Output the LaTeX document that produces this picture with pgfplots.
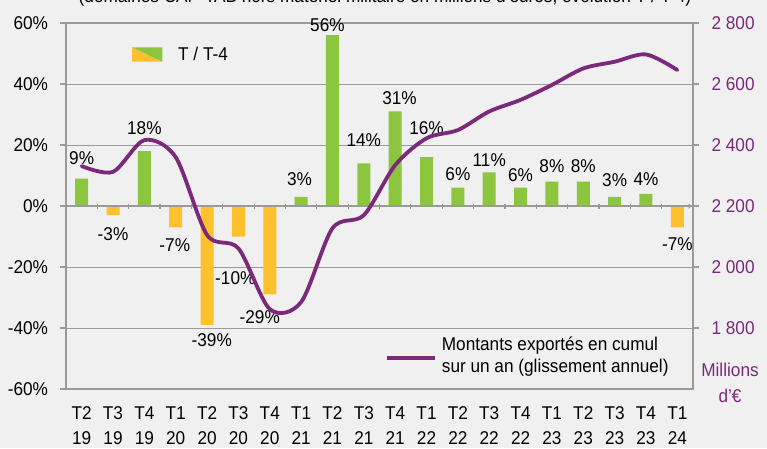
\documentclass[border=0pt]{standalone}
\usepackage{fontspec}
\setmainfont{Liberation Sans}[FakeStretch=0.93]
\usepackage{pgfplots}
\pgfplotsset{compat=1.18}
\definecolor{bgc}{HTML}{F0F0F0}
\definecolor{grn}{HTML}{8CC63F}
\definecolor{org}{HTML}{FFC02E}
\definecolor{pur}{HTML}{7B2A7B}
\definecolor{axg}{HTML}{9A9A9A}
\newcommand{\fs}{\fontsize{18.5}{22}\selectfont}
\begin{document}
\begin{tikzpicture}
\fill[bgc] (-66pt,-59pt) rectangle (701pt,389pt);
\pgfplotsset{common/.style={at={(0pt,0pt)}, anchor=south west, scale only axis,
  width=627pt, height=366pt, xmin=-0.5, xmax=19.5,
  /pgf/number format/assume math mode=true,
  tick label style={font=\fs},
  axis line style={axg, line width=1.2pt, -},
  major tick length=6pt, tick align=outside}}
% bars and left axis
\begin{axis}[common, ymin=-60, ymax=60,
  ytick={-60,-40,...,60},
  yticklabels={-60\%,-40\%,-20\%,0\%,20\%,40\%,60\%},
  ytick pos=left, ymajorgrids,
  major grid style={axg, line width=0.9pt},
  y tick style={axg, line width=1.2pt},
  xtick={0,...,19}, x tick style={draw=none},
  xticklabels={{T2\\19},{T3\\19},{T4\\19},{T1\\20},{T2\\20},{T3\\20},{T4\\20},{T1\\21},{T2\\21},{T3\\21},{T4\\21},{T1\\22},{T2\\22},{T3\\22},{T4\\22},{T1\\23},{T2\\23},{T3\\23},{T4\\23},{T1\\24}},
  xticklabel style={align=center, font=\fontsize{18.5}{25}\selectfont, yshift=-8.5pt},
  yticklabel style={xshift=-8.5pt}]
\addplot[ybar, bar width=13pt, bar shift=0pt, fill=grn, draw=none] coordinates {
 (0,9) (2,18) (7,3) (8,56) (9,14) (10,31) (11,16) (12,6) (13,11) (14,6) (15,8) (16,8) (17,3) (18,4)};
\addplot[ybar, bar width=13pt, bar shift=0pt, fill=org, draw=none] coordinates {
 (1,-3) (3,-7) (4,-39) (5,-10) (6,-29) (19,-7)};
\addplot[draw=none, mark=none, nodes near coords, point meta=explicit symbolic,
  nodes near coords align={center},
  every node near coord/.append style={anchor=center, font=\fs, inner sep=0pt, text=black}]
 coordinates {
 (0,15.6)[9\%] (1,-9.2)[-3\%] (2,25.5)[18\%] (2.97,-12.8)[-7\%] (4.15,-43.9)[-39\%]
 (4.9,-23.7)[-10\%] (5.68,-36.3)[-29\%] (6.95,8.7)[3\%] (7.84,59.3)[56\%]
 (9,21.6)[14\%] (10.14,35.3)[31\%] (11,25.5)[16\%] (12,10.4)[6\%] (13,15.1)[11\%]
 (14,10.2)[6\%] (15,13.2)[8\%] (16,13.2)[8\%] (17,8.5)[3\%] (18,8.75)[4\%] (19,-12.5)[-7\%]};
\end{axis}
% zero line tick marks
\begin{axis}[common, ymin=-60, ymax=60, axis x line=middle, axis y line=none,
  xtick={0.5,1.5,...,18.5}, xticklabels={}, x tick style={axg, line width=1.2pt},
  major tick length=5pt]
\addplot[draw=none] coordinates {(0,0)};
\end{axis}
% right axis and line
\begin{axis}[common, ymin=1600, ymax=2800, axis y line*=right, axis x line=none,
  ytick={1800,2000,...,2800},
  yticklabels={1 800,2 000,2 200,2 400,2 600,2 800},
  yticklabel style={text=pur, xshift=9pt},
  y tick style={axg, line width=1.2pt}]
\addplot[pur, line width=3.8pt, smooth, tension=0.5, line cap=round] coordinates {
 (0,2331) (1,2312) (2,2416) (3,2360) (4,2105) (5,2061) (6,1862) (7,1885)
 (8,2127) (9,2170) (10,2334) (11,2422) (12,2449) (13,2510) (14,2548)
 (15,2597) (16,2651) (17,2673) (18,2697) (19,2646)};
\end{axis}
% legends
\fill[org] (66pt,341.7pt) -- (66pt,327.3pt) -- (96.3pt,327.3pt) -- cycle;
\fill[grn] (66pt,341.7pt) -- (96.3pt,341.7pt) -- (96.3pt,327.3pt) -- cycle;
\node[anchor=west, font=\fs, inner sep=0pt] at (112pt,334.7pt) {T / T-4};
\draw[pur, line width=3.8pt] (321pt,31pt) -- (369pt,31pt);
\node[anchor=west, align=left, font=\fs, inner sep=0pt] at (375.7pt,32pt)
 {Montants exportés en cumul\\sur un an (glissement annuel)};
\node[align=center, font=\fontsize{18.5}{26}\selectfont, text=pur, inner sep=0pt] at (664pt,6pt) {Millions\\d’€};
\node[anchor=base, font=\fs, inner sep=0pt] at (319pt,386.5pt)
 {(domaines CAP-TAB hors matériel militaire en millions d’euros, évolution T / T-4)};
\pgfresetboundingbox
\useasboundingbox (-66pt,-59pt) rectangle (701pt,389pt);
\end{tikzpicture}
\end{document}
